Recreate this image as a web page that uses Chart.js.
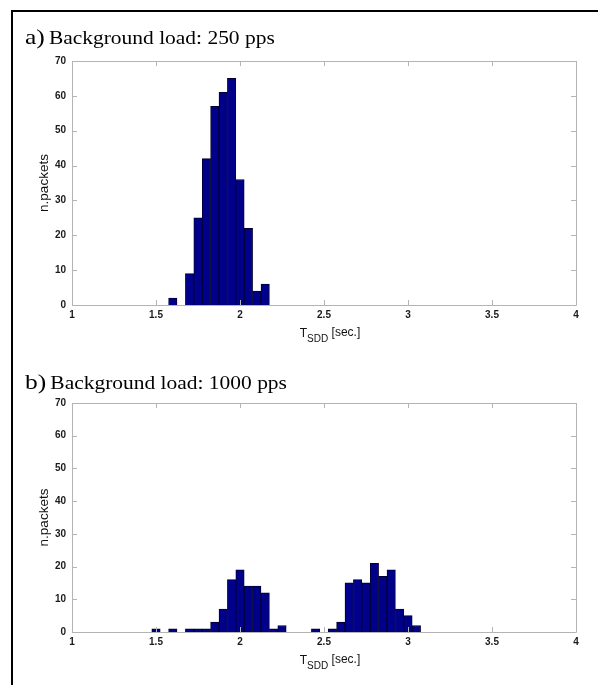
<!DOCTYPE html>
<html>
<head>
<meta charset="utf-8">
<script src="https://cdn.jsdelivr.net/npm/chart.js@4/dist/chart.umd.min.js"></script>
<style>
  html, body { margin: 0; padding: 0; background: #fff; }
  #wrap { position: relative; width: 598px; height: 685px; overflow: hidden; background: #fff; }
  .frame { position: absolute; left: 11px; top: 10px; width: 620px; height: 700px;
           border-left: 2px solid #000; border-top: 2px solid #000; }
  canvas { position: absolute; left: 0; }
</style>
</head>
<body>
<div id="wrap">
  <div class="frame"></div>
  <canvas id="histA" width="598" height="350" style="top:0"></canvas>
  <canvas id="histB" width="598" height="335" style="top:350px"></canvas>
</div>
<script>
// Histogram bins (bin centres, seconds) and packet counts
const binsA   = [1.6, 1.7, 1.75, 1.8, 1.85, 1.9, 1.95, 2.0, 2.05, 2.1, 2.15];
const countsA = [2, 9, 25, 42, 57, 61, 65, 36, 22, 4, 6];

const binsB   = [1.5, 1.6, 1.7, 1.75, 1.8, 1.85, 1.9, 1.95, 2.0, 2.05, 2.1, 2.15, 2.2, 2.25,
                 2.45, 2.55, 2.6, 2.65, 2.7, 2.75, 2.8, 2.85, 2.9, 2.95, 3.0, 3.05];
const countsB = [1, 1, 1, 1, 1, 3, 7, 16, 19, 14, 14, 12, 1, 2,
                 1, 1, 3, 15, 16, 15, 21, 17, 19, 7, 5, 2];

// Axis ticks
const xTicks = [1, 1.5, 2, 2.5, 3, 3.5, 4];
const yTicks = [0, 10, 20, 30, 40, 50, 60, 70];

// Panel headings
const tagA = 'a)', headA = 'Background load: 250 pps';
const tagB = 'b)', headB = 'Background load: 1000 pps';

const AXIS_GRAY = '#b4b4b4';
const SANS = 'Liberation Sans, Arial, sans-serif';
const SERIF = 'Liberation Serif, Times New Roman, serif';
const TICK_FONT = { family: SANS, size: 10, weight: 'bold' };

// Draws the axes box, inward tick marks, the axis titles and the panel heading
const boxPlugin = {
  id: 'matlabBox',
  afterDraw(chart, args, opts) {
    const { ctx, chartArea: a, scales } = chart;
    ctx.save();
    ctx.strokeStyle = AXIS_GRAY;
    ctx.lineWidth = 1;
    ctx.beginPath();
    ctx.rect(Math.round(a.left) + 0.5, Math.round(a.top) + 0.5,
             Math.round(a.right - a.left), Math.round(a.bottom - a.top));
    ctx.stroke();
    const len = 5;
    ctx.beginPath();
    xTicks.forEach(v => {
      const px = Math.round(scales.x.getPixelForValue(v)) + 0.5;
      ctx.moveTo(px, a.bottom); ctx.lineTo(px, a.bottom - len);
      ctx.moveTo(px, a.top); ctx.lineTo(px, a.top + len);
    });
    yTicks.forEach(v => {
      const py = Math.round(scales.y.getPixelForValue(v)) + 0.5;
      ctx.moveTo(a.left, py); ctx.lineTo(a.left + len, py);
      ctx.moveTo(a.right, py); ctx.lineTo(a.right - len, py);
    });
    ctx.stroke();

    // x axis title: T with subscript SDD, then [sec.]
    ctx.fillStyle = '#111';
    ctx.textBaseline = 'alphabetic';
    ctx.textAlign = 'left';
    const base = a.bottom + 32;
    const big = '12px ' + SANS;
    const small = '10px ' + SANS;
    ctx.font = big;  const wT = ctx.measureText('T').width;
    ctx.font = small; const wS = ctx.measureText('SDD').width;
    ctx.font = big;  const wR = ctx.measureText(' [sec.]').width;
    const x0 = (a.left + a.right) / 2 + 6 - (wT + wS + wR) / 2;
    ctx.font = big;  ctx.fillText('T', x0, base);
    ctx.font = small; ctx.fillText('SDD', x0 + wT, base + 5);
    ctx.font = big;  ctx.fillText(' [sec.]', x0 + wT + wS, base - 1);

    // y axis title
    ctx.save();
    ctx.translate(a.left - 24, (a.top + a.bottom) / 2);
    ctx.rotate(-Math.PI / 2);
    ctx.textAlign = 'center';
    ctx.font = '13.5px ' + SANS;
    ctx.fillText('n.packets', 0, 0);
    ctx.restore();

    // panel heading, slightly widened serif text
    ctx.save();
    ctx.fillStyle = '#000';
    ctx.translate(25, opts.baseline);
    ctx.scale(1.16, 1);
    ctx.font = '22px ' + SERIF;
    ctx.fillText(opts.tag, 0, 0);
    const wTag = ctx.measureText(opts.tag + ' ').width;
    ctx.font = '18.5px ' + SERIF;
    ctx.fillText(opts.text, wTag - 2, 0);
    ctx.restore();
    ctx.restore();
  }
};

function makeHist(id, bins, counts, padTop, padBottom, tag, text, baseline) {
  return new Chart(document.getElementById(id), {
    type: 'bar',
    data: {
      datasets: [{
        data: bins.map((b, i) => ({ x: b, y: counts[i] })),
        backgroundColor: '#00008b',
        borderColor: '#000030',
        borderWidth: 1,
        borderSkipped: 'start',
        barPercentage: 1,
        categoryPercentage: 1
      }]
    },
    options: {
      responsive: false,
      animation: false,
      devicePixelRatio: 1,
      layout: { padding: { left: 0, right: 22, top: padTop, bottom: padBottom } },
      plugins: {
        legend: { display: false },
        tooltip: { enabled: false },
        matlabBox: { tag, text, baseline }
      },
      scales: {
        x: {
          type: 'linear', min: 1, max: 4, offset: false,
          grid: { display: false, drawTicks: false },
          border: { display: false },
          afterBuildTicks: s => { s.ticks = xTicks.map(v => ({ value: v })); },
          afterFit: s => { s.height = 20; },
          ticks: { color: '#1a1a1a', font: TICK_FONT, padding: 4, maxRotation: 0, autoSkip: false,
                   callback: v => String(v) }
        },
        y: {
          min: 0, max: 70,
          grid: { display: false, drawTicks: false },
          border: { display: false },
          afterBuildTicks: s => { s.ticks = yTicks.map(v => ({ value: v })); },
          afterFit: s => { s.width = 72; },
          ticks: { color: '#1a1a1a', font: TICK_FONT, padding: 6, autoSkip: false }
        }
      }
    },
    plugins: [boxPlugin]
  });
}

// Panel a: plot area spans y 61..305 of a 350px canvas
makeHist('histA', binsA, countsA, 61, 350 - 305 - 20, tagA, headA, 44);
// Panel b: plot area spans y 403..632 of the page; the canvas starts at y 350
makeHist('histB', binsB, countsB, 53, 335 - 282 - 20, tagB, headB, 389 - 350);
</script>
</body>
</html>
